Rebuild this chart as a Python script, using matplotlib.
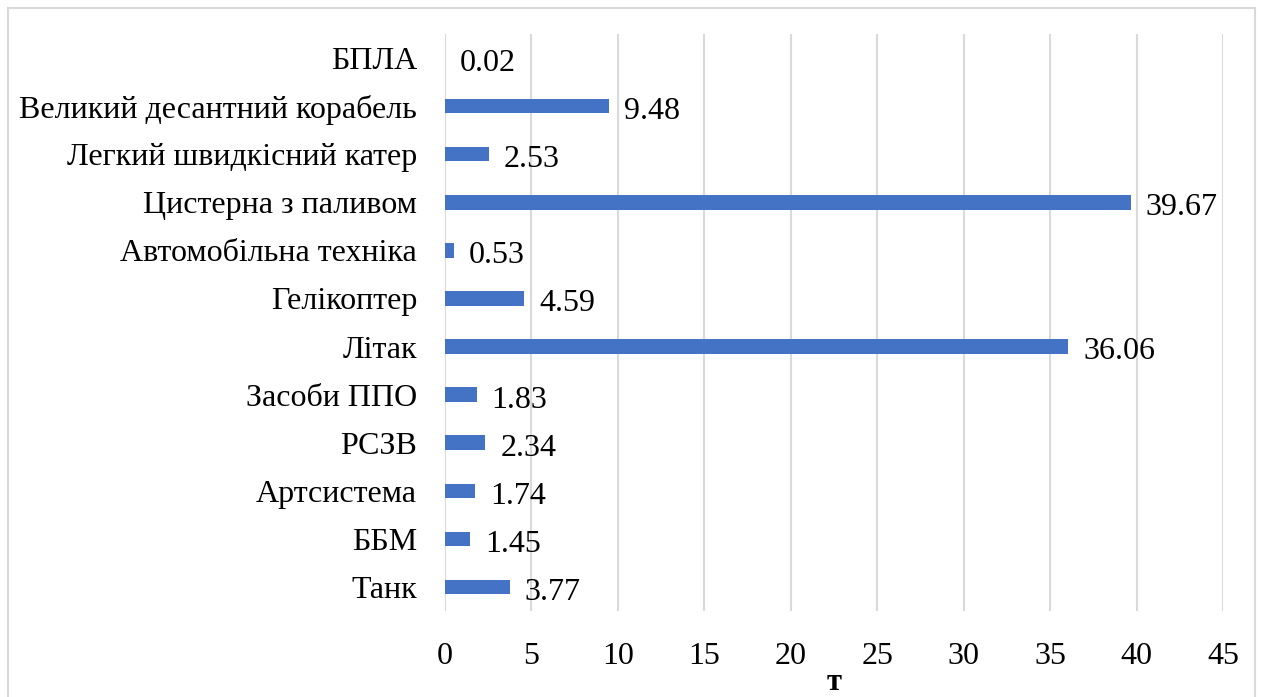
import matplotlib
matplotlib.use("Agg")
import matplotlib.pyplot as plt
from matplotlib.patches import Rectangle

categories = ["Танк", "ББМ", "Артсистема", "РСЗВ", "Засоби ППО", "Літак",
              "Гелікоптер", "Автомобільна техніка", "Цистерна з паливом",
              "Легкий швидкісний катер", "Великий десантний корабель", "БПЛА"]
values = [3.77, 1.45, 1.74, 2.34, 1.83, 36.06, 4.59, 0.53, 39.67, 2.53, 9.48, 0.02]
xticks = [0, 5, 10, 15, 20, 25, 30, 35, 40, 45]
xlabel = "т"

plt.rcParams['font.family'] = ['Liberation Serif', 'DejaVu Serif']

W, H = 1261, 697
fig = plt.figure(figsize=(W / 100, H / 100), dpi=100)
ax = fig.add_axes([445 / W, 1 - 611 / H, (1223 - 445) / W, (611 - 34) / H])

FS = 23
y = list(range(len(categories)))
ax.barh(y, values, height=0.3, color="#4472C4", zorder=3)
for yi, v in zip(y, values):
    ax.text(v + 0.85, yi - 0.04, f"{v:.2f}", va="center_baseline", ha="left",
            fontsize=FS, color="black")

ax.set_xlim(0, 45)
ax.set_ylim(-0.5, len(categories) - 0.5)
ax.set_yticks(y)
ax.set_yticklabels(categories, fontsize=FS, va="center_baseline")
ax.set_xticks(xticks)
ax.set_xticklabels([str(t) for t in xticks], fontsize=FS)
ax.tick_params(axis="both", length=0)
ax.tick_params(axis="y", pad=20)
ax.tick_params(axis="x", pad=22)
ax.grid(axis="x", color="#D9D9D9", linewidth=1.5, zorder=0)
for s in ax.spines.values():
    s.set_visible(False)

fig.text(834.5 / W, 1 - 690 / H, xlabel, fontsize=22, fontweight="bold",
         ha="center", va="baseline")

fig.patches.append(Rectangle((8 / W, -0.05), (1255 - 8) / W, 1 - 8 / H + 0.05,
                             transform=fig.transFigure, fill=False,
                             edgecolor="#D9D9D9", linewidth=1.5))

fig.savefig("out.png", dpi=100)
